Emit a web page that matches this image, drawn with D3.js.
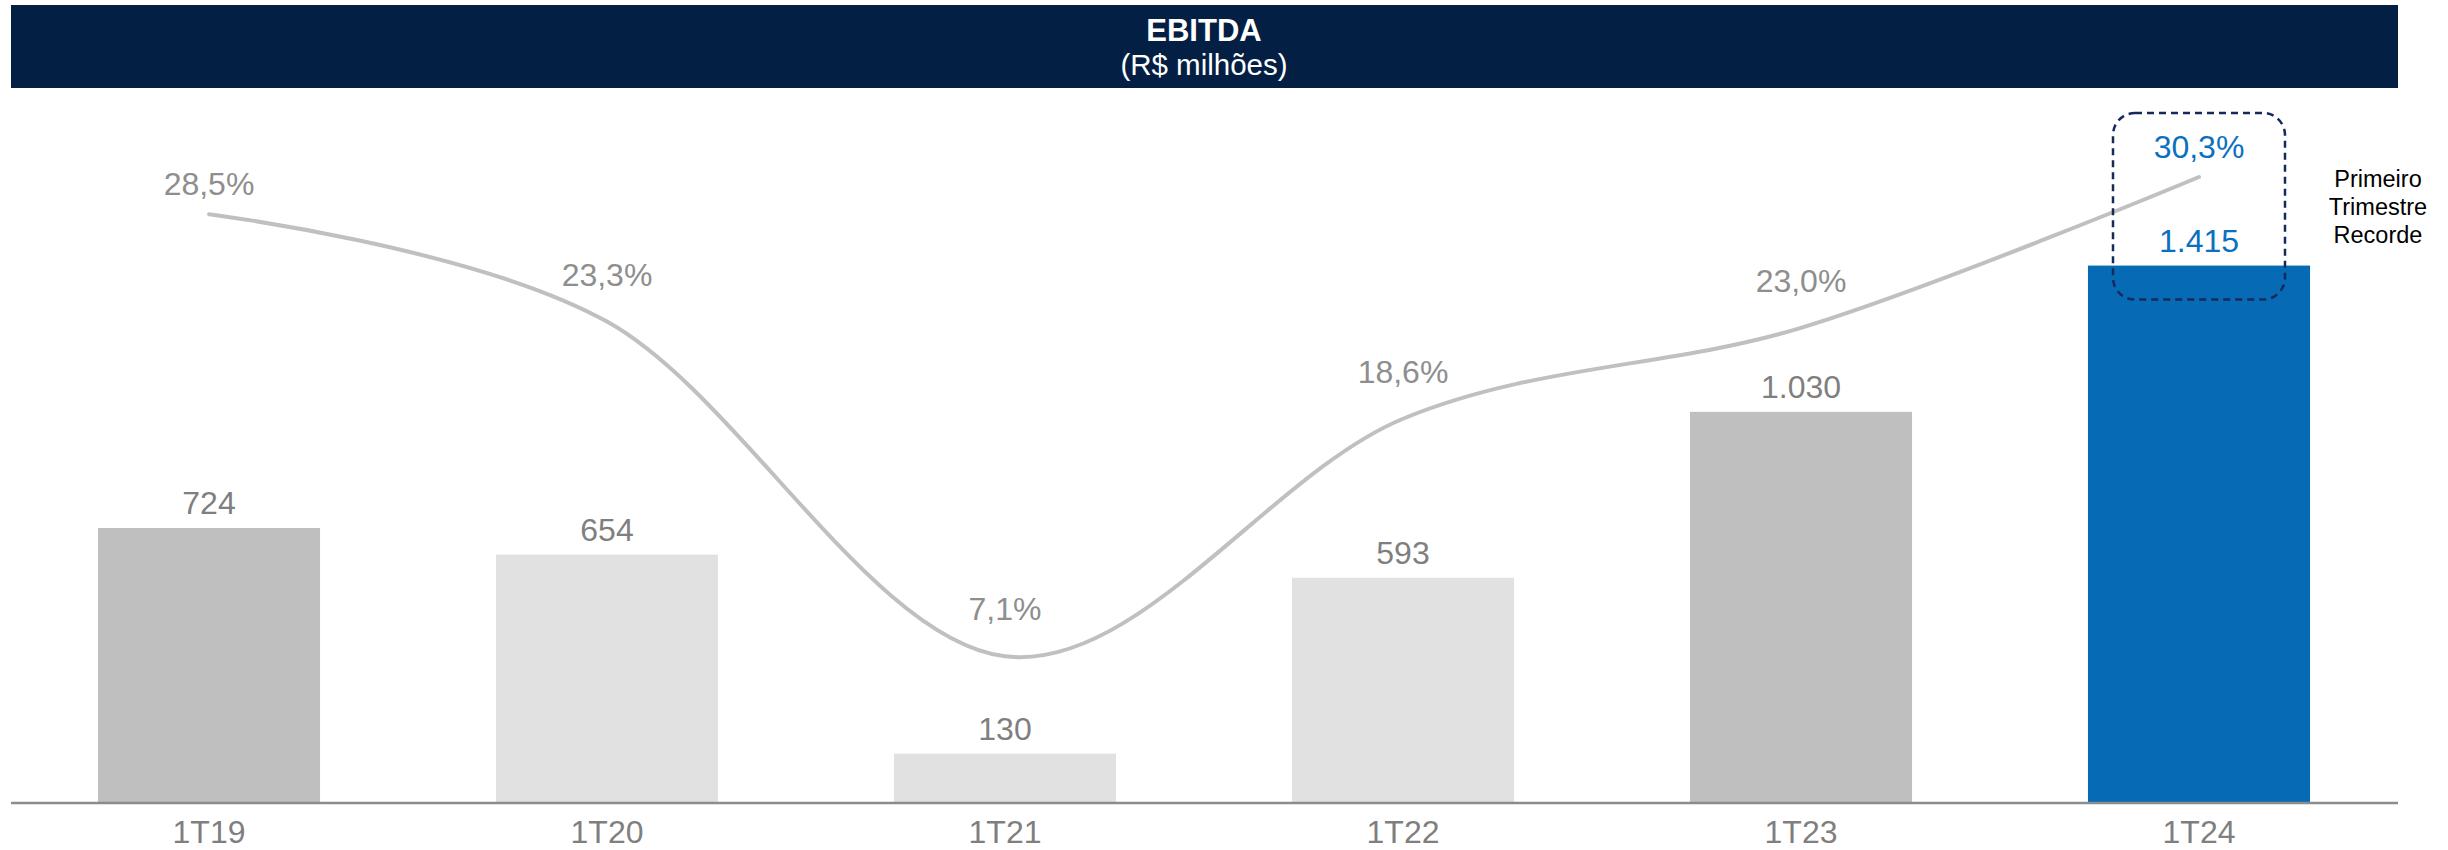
<!DOCTYPE html>
<html>
<head>
<meta charset="utf-8">
<script src="https://cdn.jsdelivr.net/npm/d3@7"></script>
<style>
  html, body { margin: 0; padding: 0; background: #fff; }
  svg { display: block; font-family: "Liberation Sans", Arial, sans-serif; }
</style>
</head>
<body>
<svg id="chart" width="2448" height="850"></svg>
<script>
// data
const periods = ['1T19', '1T20', '1T21', '1T22', '1T23', '1T24'];
const ebitda = [724, 654, 130, 593, 1030, 1415];
const ebitdaLabels = ['724', '654', '130', '593', '1.030', '1.415'];
const margin = [28.5, 23.3, 7.1, 18.6, 23.0, 30.3];
const marginLabels = ['28,5%', '23,3%', '7,1%', '18,6%', '23,0%', '30,3%'];
const noteLines = ['Primeiro', 'Trimestre', 'Recorde'];

const barColors = ['#bfbfbf', '#e1e1e1', '#e1e1e1', '#e1e1e1', '#bfbfbf', '#066ab4'];
const blue = '#0a70c0';

let svg = d3.select('#chart');
let baseY = 803;

// header band
svg.append('rect')
    .attr('x', 11).attr('y', 5)
    .attr('width', 2387).attr('height', 83)
    .attr('fill', '#041f44');
svg.append('text')
    .attr('x', 1204).attr('y', 41)
    .attr('text-anchor', 'middle')
    .attr('fill', '#fff')
    .attr('font-weight', 'bold')
    .attr('font-size', 31)
    .text('EBITDA');
svg.append('text')
    .attr('x', 1204).attr('y', 75)
    .attr('text-anchor', 'middle')
    .attr('fill', '#fff')
    .attr('font-size', 29.5)
    .text('(R$ milhões)');

// scales
let x = d3.scaleBand()
    .domain(periods)
    .range([10, 2398])
    .paddingInner(0.442)
    .paddingOuter(0.221);
let yBar = d3.scaleLinear().domain([0, 1500]).range([baseY, baseY - 1500 * 0.3798]);
let yPct = d3.scaleLinear().domain([0, 30]).range([baseY, baseY - 30 * 20.66]);
let cx = d => x(d) + x.bandwidth() / 2;

// bars
svg.append('g')
    .selectAll('rect')
    .data(periods)
    .join('rect')
        .attr('x', d => x(d))
        .attr('y', (d, i) => yBar(ebitda[i]))
        .attr('width', x.bandwidth())
        .attr('height', (d, i) => baseY - yBar(ebitda[i]))
        .attr('fill', (d, i) => barColors[i]);

// bar value labels
svg.append('g')
    .selectAll('text')
    .data(periods)
    .join('text')
        .attr('x', d => cx(d))
        .attr('y', (d, i) => yBar(ebitda[i]) - 14)
        .attr('text-anchor', 'middle')
        .attr('font-size', 32)
        .attr('fill', (d, i) => i === periods.length - 1 ? blue : '#7f7f7f')
        .text((d, i) => ebitdaLabels[i]);

// baseline axis
let axis = svg.append('g')
    .attr('transform', `translate(0,${baseY})`)
    .call(d3.axisBottom(x).tickSize(0));
axis.select('.domain')
    .attr('d', `M11,0H2398`)
    .attr('stroke', '#8c8c8c')
    .attr('stroke-width', 2.5);
axis.selectAll('.tick text')
    .attr('font-size', 32)
    .attr('font-family', '"Liberation Sans", Arial, sans-serif')
    .attr('fill', '#7f7f7f')
    .attr('dy', null)
    .attr('y', 40);

// margin line
let line = d3.line()
    .x((d, i) => cx(periods[i]))
    .y(d => yPct(d))
    .curve(d3.curveCatmullRom.alpha(0));
svg.append('path')
    .datum(margin)
    .attr('d', line)
    .attr('fill', 'none')
    .attr('stroke', '#c0c0c0')
    .attr('stroke-width', 4)
    .attr('stroke-linecap', 'round');

// margin labels
svg.append('g')
    .selectAll('text')
    .data(periods)
    .join('text')
        .attr('x', d => cx(d))
        .attr('y', (d, i) => yPct(margin[i]) - ((i === 0 || i === periods.length - 1) ? 19 : 36))
        .attr('text-anchor', 'middle')
        .attr('font-size', 32)
        .attr('fill', (d, i) => i === periods.length - 1 ? blue : '#8e8e8e')
        .text((d, i) => marginLabels[i]);

// highlight box around the record quarter
let last = periods[periods.length - 1];
let boxTop = yPct(margin[margin.length - 1]) - 64;
let boxBottom = yBar(ebitda[ebitda.length - 1]) + 34;
svg.append('rect')
    .attr('x', cx(last) - 86)
    .attr('y', boxTop)
    .attr('width', 172)
    .attr('height', boxBottom - boxTop)
    .attr('rx', 22).attr('ry', 22)
    .attr('fill', 'none')
    .attr('stroke', '#142a5c')
    .attr('stroke-width', 2.5)
    .attr('stroke-dasharray', '7 5');

// side note
svg.append('text')
    .attr('x', 2378)
    .attr('y', 187)
    .attr('text-anchor', 'middle')
    .attr('font-size', 23.5)
    .attr('fill', '#000')
    .selectAll('tspan')
    .data(noteLines)
    .join('tspan')
        .attr('x', 2378)
        .attr('dy', (d, i) => i === 0 ? 0 : 28)
        .text(d => d);
</script>
</body>
</html>
